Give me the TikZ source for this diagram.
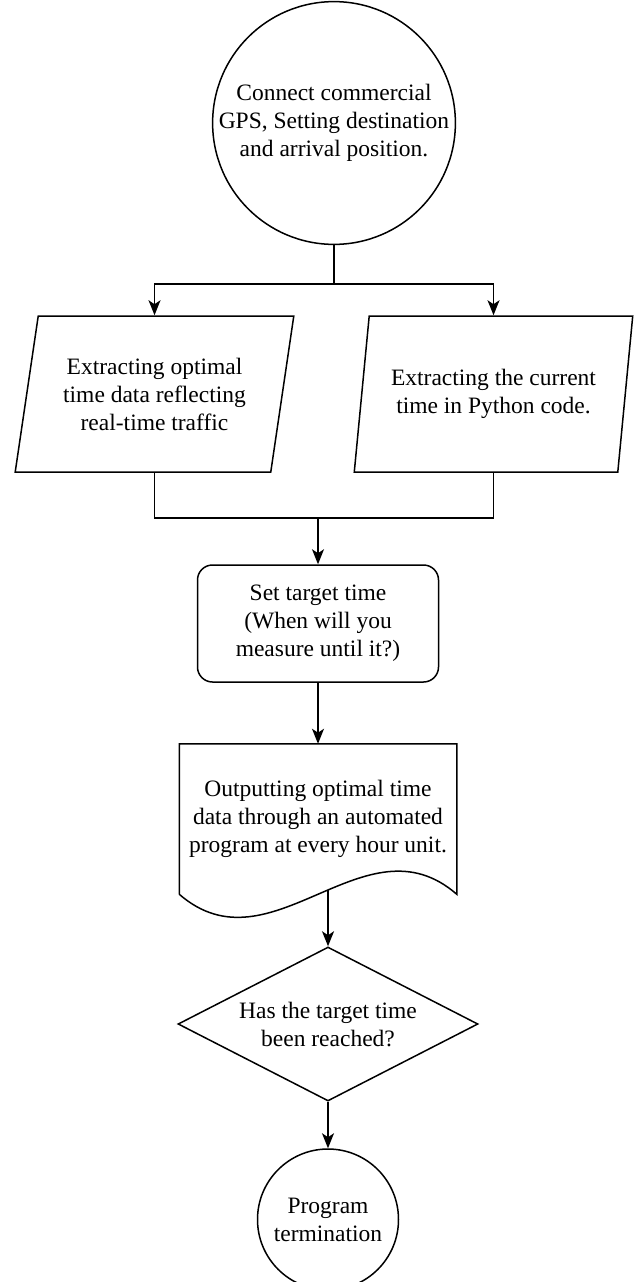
\documentclass[tikz,border=0pt]{standalone}
\usepackage{fontspec}
\setmainfont{Liberation Serif}
\usepackage{tikz}
\usetikzlibrary{shapes.geometric,arrows.meta}

\begin{document}
\begin{tikzpicture}[x=1pt, y=-1pt, line width=1.5pt,
    every node/.style={font=\fontsize{23.5}{28}\selectfont, align=center, inner sep=0pt},
    arrow/.style={-{Stealth[length=15pt,width=12pt,inset=4pt]}},
    startend/.style={draw, circle},
    iobox/.style={draw, trapezium, trapezium left angle=76, trapezium right angle=104,
        trapezium stretches=true, minimum width=279pt, minimum height=156pt}]
\useasboundingbox (0,0) rectangle (635,1282);

\node[startend, minimum size=234pt] (start) at (334,123) {Connect commercial\\GPS, Setting destination\\and arrival position.};
\node[iobox] (optimal) at (154.5,394) {Extracting optimal\\time data reflecting\\real-time traffic};
\node[iobox] (current) at (493.5,394) {Extracting the current\\time in Python code.};
\node[draw, rounded corners=15pt, minimum width=241pt, minimum height=117pt] (target) at (318,623.5) {Set target time\\(When will you\\measure until it?)};
\node[minimum width=276pt, minimum height=149pt] (output) at (318,819) {Outputting optimal time\\data through an automated\\program at every hour unit.};
\node[draw, diamond, aspect=1.95, minimum width=300pt, minimum height=154pt] (reached) at (328,1024) {Has the target time\\been reached?};
\node[startend, minimum size=141pt] (finish) at (328,1219.5) {Program\\termination};

\draw (output.south west) -- (output.north west) -- (output.north east) -- (output.south east)
    .. controls +(-92,-80) and +(92,80) .. (output.south west) coordinate[pos=0.464] (wave);

\draw (start.south) -- ++(0,39) coordinate (fork);
\draw[arrow] (fork) -| (optimal.north);
\draw[arrow] (fork) -| (current.north);
\coordinate (join) at (318,518);
\draw (optimal.south) |- (join);
\draw (current.south) |- (join);
\draw[arrow] (join) -- (target.north);
\draw[arrow] (target.south) -- (output.north);
\draw[arrow] (wave) -- (wave |- reached.north);
\draw[arrow] (reached.south) -- (finish.north);
\end{tikzpicture}
\end{document}
